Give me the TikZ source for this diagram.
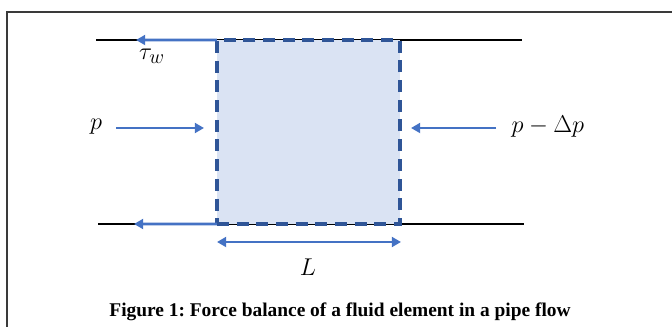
\documentclass[tikz,border=0pt]{standalone}
\usepackage{fontspec}
\setmainfont{Liberation Serif}
\usepackage{tikz}
\usetikzlibrary{arrows.meta,positioning}
\definecolor{ElemFill}{HTML}{DAE3F3}
\definecolor{ElemLine}{HTML}{2F5597}
\definecolor{ForceBlue}{HTML}{4472C4}
\definecolor{FrameGray}{HTML}{3A3A3A}
\frenchspacing

\begin{document}
\begin{tikzpicture}[
  x=0.025cm,y=-0.025cm,
  pipe/.style={draw=black,line width=1.1pt},
  elem/.style={draw=ElemLine,fill=ElemFill,line width=2.3pt,dash pattern=on 8.5pt off 5.5pt,
               minimum width=4.575cm,minimum height=4.6cm,inner sep=0pt,outer sep=0pt},
  arr/.style={-{Triangle[length=6.5pt,width=7pt]},line width=2pt,draw=ForceBlue},
  dbl/.style={{Triangle[length=6.5pt,width=7pt]}-{Triangle[length=6.5pt,width=7pt]},line width=2pt,draw=ForceBlue},
  lbl/.style={font=\fontsize{16}{19}\selectfont,inner sep=1pt}
]
\useasboundingbox (0,0) rectangle (672,327);
\draw[draw=FrameGray,line width=1pt] (7,327) -- (7,12) -- (672,12);
% pipe walls
\coordinate (wallTL) at (96,40);
\coordinate (wallTR) at (522,40);
\coordinate (wallBL) at (98,224);
\coordinate (wallBR) at (524,224);
\draw[pipe] (wallTL) -- (wallTR);
\draw[pipe] (wallBL) -- (wallBR);
% fluid element
\node[elem] (elem) at (308.5,132) {};
% wall shear
\coordinate (tauTop) at (136,40);
\coordinate (tauBot) at (134,224);
\draw[arr] (elem.north west) -- (tauTop);
\draw[arr] (elem.south west) -- (tauBot);
\node[lbl,font=\fontsize{19}{22}\selectfont] (tauw) at (152,56) {$\tau_w$};
% pressures
\node[lbl] (pin) at (96,127) {$p$};
\coordinate (pinS) at (116,128);
\coordinate (pinE) at (204,128);
\draw[arr] (pinS) -- (pinE);
\node[lbl,anchor=west] (pout) at (510,127) {$p-\Delta p$};
\coordinate (poutS) at (496,128);
\coordinate (poutE) at (411,128);
\draw[arr] (poutS) -- (poutE);
% length
\coordinate (lenA) at (217,242);
\coordinate (lenB) at (401,242);
\draw[dbl] (lenA) -- (lenB);
\node[lbl] (len) at (308,267) {$L$};
\node[font=\bfseries\fontsize{13.8}{16}\selectfont] (cap) at (340,312)
  {Figure 1: Force balance of a fluid element in a pipe flow};
\end{tikzpicture}
\end{document}
